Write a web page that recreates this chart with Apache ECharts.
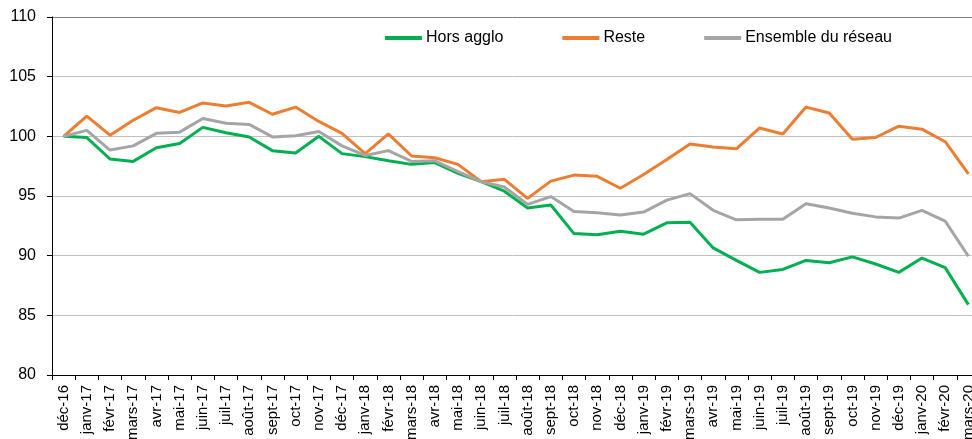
<!DOCTYPE html>
<html>
<head>
<meta charset="utf-8">
<script src="https://cdn.jsdelivr.net/npm/echarts@6/dist/echarts.min.js"></script>
<style>
  html, body { margin: 0; padding: 0; background: #fff; }
  #chart { width: 972px; height: 439px; }
</style>
</head>
<body>
<div id="chart"></div>
<script>
// mois (déc-16 à mars-20)
const months = [
  'déc-16', 'janv-17', 'févr-17', 'mars-17', 'avr-17', 'mai-17', 'juin-17', 'juil-17', 'août-17', 'sept-17',
  'oct-17', 'nov-17', 'déc-17', 'janv-18', 'févr-18', 'mars-18', 'avr-18', 'mai-18', 'juin-18', 'juil-18',
  'août-18', 'sept-18', 'oct-18', 'nov-18', 'déc-18', 'janv-19', 'févr-19', 'mars-19', 'avr-19', 'mai-19',
  'juin-19', 'juil-19', 'août-19', 'sept-19', 'oct-19', 'nov-19', 'déc-19', 'janv-20', 'févr-20', 'mars-20'
]

// indices (base 100 en déc-16)
const horsAgglo = [
  100.0, 99.9, 98.1, 97.9, 99.05, 99.4, 100.75, 100.3, 99.95, 98.8,
  98.6, 100.0, 98.55, 98.3, 97.95, 97.65, 97.8, 96.9, 96.2, 95.4,
  94.0, 94.25, 91.85, 91.75, 92.05, 91.8, 92.75, 92.8, 90.65, 89.6,
  88.6, 88.85, 89.6, 89.4, 89.9, 89.3, 88.6, 89.8, 89.0, 85.9
]
const reste = [
  100.0, 101.7, 100.1, 101.35, 102.4, 102.0, 102.8, 102.55, 102.85, 101.85,
  102.45, 101.25, 100.25, 98.55, 100.2, 98.35, 98.2, 97.65, 96.2, 96.4,
  94.8, 96.25, 96.75, 96.65, 95.65, 96.8, 98.05, 99.35, 99.1, 98.95,
  100.7, 100.2, 102.45, 101.95, 99.75, 99.9, 100.85, 100.6, 99.55, 96.85
]
const ensemble = [
  100.0, 100.5, 98.85, 99.2, 100.25, 100.35, 101.5, 101.1, 101.0, 99.95,
  100.05, 100.4, 99.2, 98.4, 98.8, 97.9, 97.95, 97.05, 96.2, 95.75,
  94.3, 94.95, 93.7, 93.6, 93.4, 93.65, 94.65, 95.2, 93.8, 93.0,
  93.05, 93.05, 94.35, 94.0, 93.55, 93.25, 93.15, 93.8, 92.9, 89.95
]

const font = '"Liberation Sans", Arial, sans-serif'
const chart = echarts.init(document.getElementById('chart'))

const makeLine = (name, data, color) => ({
  name: name,
  type: 'line',
  data: data,
  symbol: 'none',
  smooth: false,
  lineStyle: { color: color, width: 3 },
  itemStyle: { color: color }
})

chart.setOption({
  animation: false,
  grid: { left: 52, right: -8, top: 17, bottom: 64, containLabel: false, outerBoundsMode: 'none' },
  legend: {
    left: 380,
    top: 25,
    itemWidth: 37,
    itemHeight: 4,
    itemGap: 59,
    icon: 'rect',
    textStyle: { fontFamily: font, fontSize: 16, color: '#000', padding: [0, 0, 0, -1] },
    data: ['Hors agglo', 'Reste', 'Ensemble du réseau']
  },
  xAxis: {
    type: 'category',
    data: months,
    boundaryGap: true,
    axisLine: { lineStyle: { color: '#000', width: 1 } },
    axisTick: { show: true, length: 5, inside: false, lineStyle: { color: '#000' } },
    axisLabel: {
      rotate: 90,
      interval: 0,
      margin: 10,
      fontFamily: font,
      fontSize: 15,
      color: '#000'
    },
    splitLine: { show: false }
  },
  yAxis: {
    type: 'value',
    min: 80,
    max: 110,
    interval: 5,
    axisLine: { show: true, lineStyle: { color: '#000', width: 1 } },
    axisTick: { show: true, length: 5, lineStyle: { color: '#000' } },
    axisLabel: { margin: 16, fontFamily: font, fontSize: 16, color: '#000' },
    splitLine: {
      lineStyle: {
        color: ['#c0c0c0', '#c0c0c0', '#c0c0c0', '#c0c0c0', '#c0c0c0', '#c0c0c0', '#808080'],
        width: 1
      }
    }
  },
  series: [
    makeLine('Hors agglo', horsAgglo, '#00b050'),
    makeLine('Reste', reste, '#ed7d31'),
    makeLine('Ensemble du réseau', ensemble, '#a5a5a5')
  ]
})
</script>
</body>
</html>
